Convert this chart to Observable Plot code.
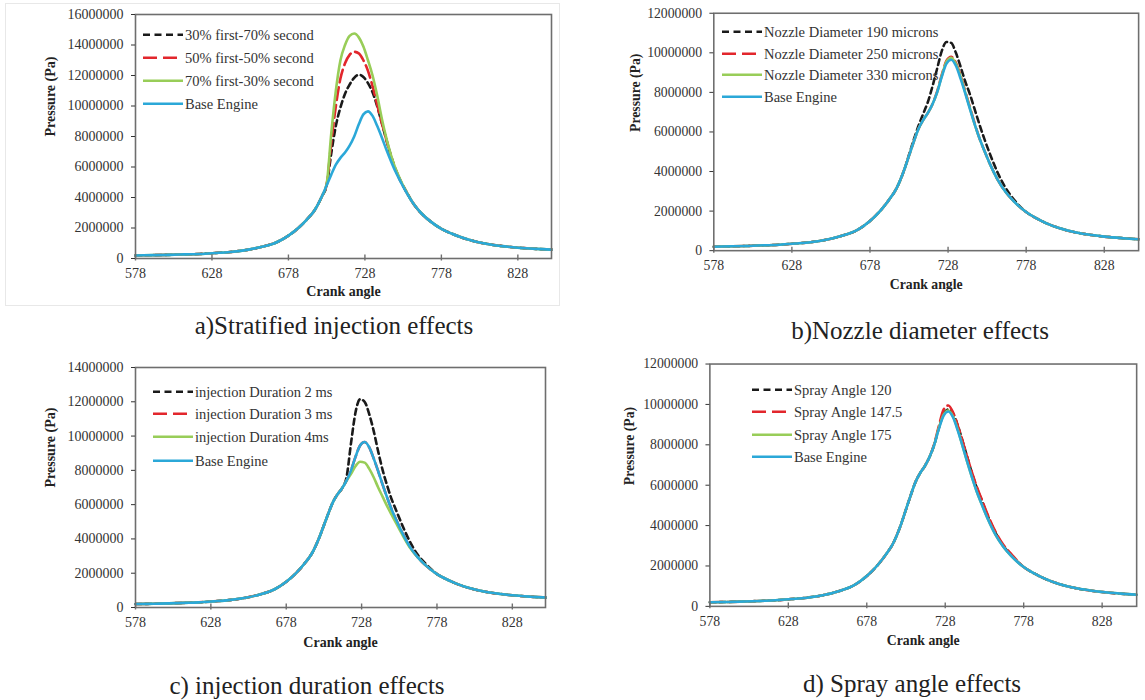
<!DOCTYPE html>
<html><head><meta charset="utf-8">
<script src="https://cdn.jsdelivr.net/npm/d3@7"></script>
<script src="https://cdn.jsdelivr.net/npm/@observablehq/plot@0.6"></script>
<style>
html,body{margin:0;padding:0;background:#fff;overflow:hidden}
#root{position:relative;width:1145px;height:700px;overflow:hidden;font-family:"Liberation Serif","Times New Roman",serif;color:#333;background:#fff}
.panel{position:absolute}
.cap{position:absolute;font-size:25px;white-space:nowrap;transform:translate(-50%,-50%);color:#222;line-height:1}
.leg{position:absolute;font-size:14.5px;white-space:nowrap;display:flex;align-items:center;transform:translateY(-50%);line-height:1;color:#333}
.leg svg{display:block;margin-right:2px}
.box{position:absolute;border:1px solid #e8e8e8}
</style></head><body><div id="root"></div>
<script>
// Crank angle grid shared by all series
const angles = [578,590,600,610,620,630,640,650,660,670,678,685,690,695,700,703,706,709,712,715,718,721,724,727,730,733,736,739,742,745,748,751,755,760,765,770,778,785,790,800,810,820,828,840,850];
// Pressure values in millions of Pa
const MPA = 1e6;
const baseEngine = [0.20,0.22,0.24,0.27,0.30,0.36,0.43,0.55,0.75,1.05,1.50,2.05,2.55,3.15,4.10, 4.80,5.50,6.15,6.60,6.95, 7.40,8.00,8.80,9.45,9.65, 9.35,8.70,7.95,7.15,6.40, 5.70,5.10,4.35,3.55,2.95, 2.50,1.95,1.62,1.42,1.12, 0.92,0.79,0.71,0.63,0.58];

// a) Stratified injection
const strat30 = [0.20,0.22,0.24,0.27,0.30,0.36,0.43,0.55,0.75,1.05,1.50,2.05,2.55,3.15,4.10, 4.80,6.90,8.70,9.90,10.80, 11.40,11.85,12.05,11.90,11.50, 10.90,10.00,8.90,7.80,6.75, 5.85,5.15,4.40,3.55,2.95, 2.50,1.95,1.62,1.42,1.12, 0.92,0.79,0.71,0.63,0.58];
const strat50 = [0.20,0.22,0.24,0.27,0.30,0.36,0.43,0.55,0.75,1.05,1.50,2.05,2.55,3.15,4.10, 4.85,7.60,10.00,11.80,12.80, 13.35,13.55,13.45,13.00,12.30, 11.30,10.10,8.90,7.80,6.70, 5.85,5.15,4.40,3.55,2.95, 2.50,1.95,1.62,1.42,1.12, 0.92,0.79,0.71,0.63,0.58];
const strat70 = [0.20,0.22,0.24,0.27,0.30,0.36,0.43,0.55,0.75,1.05,1.50,2.05,2.55,3.15,4.10, 4.90,8.20,11.00,13.00,14.00, 14.60,14.75,14.50,13.90,13.00, 12.00,10.70,9.20,7.90,6.80, 5.90,5.20,4.40,3.55,2.95, 2.50,1.95,1.62,1.42,1.12, 0.92,0.79,0.71,0.63,0.58];
// b) Nozzle diameter
const noz190 = [0.20,0.22,0.24,0.27,0.30,0.36,0.43,0.55,0.75,1.05,1.50,2.05,2.55,3.15,4.10, 4.85,5.60,6.30,6.90,7.50, 8.30,9.20,10.10,10.55,10.50, 10.00,9.30,8.55,7.90,7.15, 6.40,5.70,4.85,3.90,3.15, 2.60,1.95,1.62,1.42,1.12, 0.92,0.79,0.71,0.63,0.58];
const noz250 = [0.20,0.22,0.24,0.27,0.30,0.36,0.43,0.55,0.75,1.05,1.50,2.05,2.55,3.15,4.10, 4.80,5.50,6.15,6.60,6.95, 7.40,8.05,8.90,9.60,9.80, 9.50,8.85,8.05,7.25,6.45, 5.70,5.10,4.35,3.55,2.95, 2.50,1.95,1.62,1.42,1.12, 0.92,0.79,0.71,0.63,0.58];
const noz330 = [0.20,0.22,0.24,0.27,0.30,0.36,0.43,0.55,0.75,1.05,1.50,2.05,2.55,3.15,4.10, 4.80,5.50,6.15,6.60,6.95, 7.40,8.00,8.85,9.55,9.75, 9.45,8.80,8.00,7.20,6.40, 5.70,5.10,4.35,3.55,2.95, 2.50,1.95,1.62,1.42,1.12, 0.92,0.79,0.71,0.63,0.58];
// c) Injection duration
const dur2 = [0.20,0.22,0.24,0.27,0.30,0.36,0.43,0.55,0.75,1.05,1.50,2.05,2.55,3.15,4.10, 4.80,5.50,6.15,6.60,6.95, 7.60,9.60,11.40,12.15,12.00, 11.30,10.30,9.10,8.00,7.10, 6.30,5.65,4.80,3.85,3.10, 2.60,1.95,1.62,1.42,1.12, 0.92,0.79,0.71,0.63,0.58];
const dur3 = [0.20,0.22,0.24,0.27,0.30,0.36,0.43,0.55,0.75,1.05,1.50,2.05,2.55,3.15,4.10, 4.80,5.50,6.15,6.60,6.95, 7.40,8.00,8.80,9.45,9.65, 9.35,8.70,7.95,7.15,6.40, 5.70,5.10,4.35,3.55,2.95, 2.50,1.95,1.62,1.42,1.12, 0.92,0.79,0.71,0.63,0.58];
const dur4 = [0.20,0.22,0.24,0.27,0.30,0.36,0.43,0.55,0.75,1.05,1.50,2.05,2.55,3.15,4.10, 4.80,5.50,6.15,6.60,6.95, 7.40,7.80,8.25,8.50,8.45, 8.10,7.60,7.00,6.45,5.90, 5.40,4.90,4.25,3.50,2.95, 2.50,1.95,1.62,1.42,1.12, 0.92,0.79,0.71,0.63,0.58];
// d) Spray angle
const spr120 = [0.20,0.22,0.24,0.27,0.30,0.36,0.43,0.55,0.75,1.05,1.50,2.05,2.55,3.15,4.10, 4.80,5.50,6.15,6.60,6.95, 7.40,8.00,8.85,9.55,9.75, 9.55,8.95,8.20,7.40,6.60, 5.90,5.30,4.50,3.65,3.00, 2.55,1.95,1.62,1.42,1.12, 0.92,0.79,0.71,0.63,0.58];
const spr147 = [0.20,0.22,0.24,0.27,0.30,0.36,0.43,0.55,0.75,1.05,1.50,2.05,2.55,3.15,4.10, 4.80,5.50,6.15,6.60,6.95, 7.40,8.05,8.95,9.75,9.95, 9.60,8.95,8.20,7.40,6.65, 5.95,5.35,4.55,3.70,3.05, 2.60,1.95,1.62,1.42,1.12, 0.92,0.79,0.71,0.63,0.58];
const spr175 = [0.20,0.22,0.24,0.27,0.30,0.36,0.43,0.55,0.75,1.05,1.50,2.05,2.55,3.15,4.10, 4.80,5.50,6.15,6.60,6.95, 7.40,8.00,8.85,9.50,9.70, 9.40,8.75,7.95,7.15,6.40, 5.70,5.10,4.35,3.55,2.95, 2.50,1.95,1.62,1.42,1.12, 0.92,0.79,0.71,0.63,0.58];

const xTicks = [578,628,678,728,778,828];
const yTicksA = [0,2e6,4e6,6e6,8e6,10e6,12e6,14e6,16e6];
const yTicksB = [0,2e6,4e6,6e6,8e6,10e6,12e6];
const yTicksC = [0,2e6,4e6,6e6,8e6,10e6,12e6,14e6];
const yTicksD = [0,2e6,4e6,6e6,8e6,10e6,12e6];

const labelsA = ["30% first-70% second","50% first-50% second","70% first-30% second","Base Engine"];
const labelsB = ["Nozzle Diameter 190 microns","Nozzle Diameter 250 microns","Nozzle Diameter 330 microns","Base Engine"];
const labelsC = ["injection Duration 2 ms","injection Duration 3 ms","injection Duration 4ms","Base Engine"];
const labelsD = ["Spray Angle 120","Spray Angle 147.5","Spray Angle 175","Base Engine"];
const captions = ["a)Stratified injection effects","b)Nozzle diameter effects","c) injection duration effects","d) Spray angle effects"];

const styles = [
  {color:"#1a1a1a", dash:"6,4", width:2.6, legDash:"7,4.5"},
  {color:"#e2262c", dash:"13,5", width:2.6, legDash:"14,6"},
  {color:"#98cd58", dash:null, width:2.6, legDash:null},
  {color:"#2ba8d8", dash:null, width:2.6, legDash:null}
];

const panels = [
  {left:0, top:0, width:560, height:310, mt:14, mr:9, mb:52, ml:135, ymax:16e6, yTicks:yTicksA, yDx:-85, xDy:37,
   series:[strat30,strat50,strat70,baseEngine], labels:labelsA, legX:143, legY:[35,58,81,104], cap:captions[0], capX:334, capY:325},
  {left:625, top:0, width:530, height:310, mt:13, mr:7, mb:55, ml:90, ymax:12e6, yTicks:yTicksB, yDx:-80, xDy:39,
   series:[noz190,noz250,noz330,baseEngine], labels:labelsB, legX:722, legY:[32,53.5,75,96.5], cap:captions[1], capX:920, capY:330},
  {left:0, top:340, width:560, height:320, mt:27, mr:15, mb:53, ml:135, ymax:14e6, yTicks:yTicksC, yDx:-85, xDy:39,
   series:[dur2,dur3,dur4,baseEngine], labels:labelsC, legX:153, legY:[392,414,437,461], cap:captions[2], capX:307, capY:685},
  {left:625, top:340, width:530, height:320, mt:24, mr:9, mb:49, ml:86, ymax:12e6, yTicks:yTicksD, yDx:-82, xDy:39,
   series:[spr120,spr147,spr175,baseEngine], labels:labelsD, legX:752, legY:[390,412,435,457], cap:captions[3], capX:912, capY:683}
];

// tick mark crossing the x axis (mostly inward), like the spreadsheet chart
const crossTick = {draw(context) { context.moveTo(0, -4); context.lineTo(0, 2); }};

const root = document.getElementById("root");

// faint chart-area border of panel a
const bx = document.createElement("div");
bx.className = "box";
Object.assign(bx.style, {left:"5px", top:"3px", width:"553px", height:"301px"});
root.appendChild(bx);

for (const p of panels) {
  const lineMarks = p.series.map((vals, k) => Plot.line(
    angles.map((a, i) => ({angle:a, pressure:vals[i]*MPA})),
    {x:"angle", y:"pressure", stroke:styles[k].color, strokeWidth:styles[k].width,
     strokeDasharray:styles[k].dash, curve:"monotone-x"}));
  const chart = Plot.plot({
    width:p.width, height:p.height,
    marginTop:p.mt, marginRight:p.mr, marginBottom:p.mb, marginLeft:p.ml,
    style:{fontFamily:"Liberation Serif, Times New Roman, serif", fontSize:"14px", color:"#333", background:"transparent", overflow:"visible"},
    x:{domain:[578,850]},
    y:{domain:[0,p.ymax]},
    marks:[
      ...lineMarks,
      Plot.frame({stroke:"#6e6e6e", strokeWidth:1.6}),
      Plot.dot(xTicks, {x:d=>d, y:()=>0, symbol:crossTick, stroke:"#6e6e6e", strokeWidth:1.4, fill:"none"}),
      Plot.axisX({ticks:xTicks, tickFormat:d=>String(d), tickSize:0, tickPadding:10, label:null, fontSize:14}),
      Plot.axisY({ticks:p.yTicks, tickFormat:d=>d.toFixed(0), tickSize:4, tickPadding:8, label:null, fontSize:14}),
      Plot.text(["Pressure (Pa)"], {text:d=>d, frameAnchor:"left", dx:p.yDx, rotate:-90, fontWeight:"bold", fontSize:14, fill:"#222"}),
      Plot.text(["Crank angle"], {text:d=>d, frameAnchor:"bottom", dy:p.xDy, fontWeight:"bold", fontSize:14, fill:"#222"})
    ]
  });
  const wrap = document.createElement("div");
  wrap.className = "panel";
  wrap.style.left = p.left + "px";
  wrap.style.top = p.top + "px";
  wrap.appendChild(chart);
  root.appendChild(wrap);

  // legend
  p.labels.forEach((lab, k) => {
    const row = document.createElement("div");
    row.className = "leg";
    row.style.left = p.legX + "px";
    row.style.top = p.legY[k] + "px";
    const s = styles[k];
    row.innerHTML = `<svg width="40" height="8"><line x1="0" y1="4" x2="40" y2="4" stroke="${s.color}" stroke-width="2.6" ${s.legDash ? `stroke-dasharray="${s.legDash}"` : ""}/></svg><span>${lab}</span>`;
    root.appendChild(row);
  });

  const cap = document.createElement("div");
  cap.className = "cap";
  cap.style.left = p.capX + "px";
  cap.style.top = p.capY + "px";
  cap.textContent = p.cap;
  root.appendChild(cap);
}
</script></body></html>
